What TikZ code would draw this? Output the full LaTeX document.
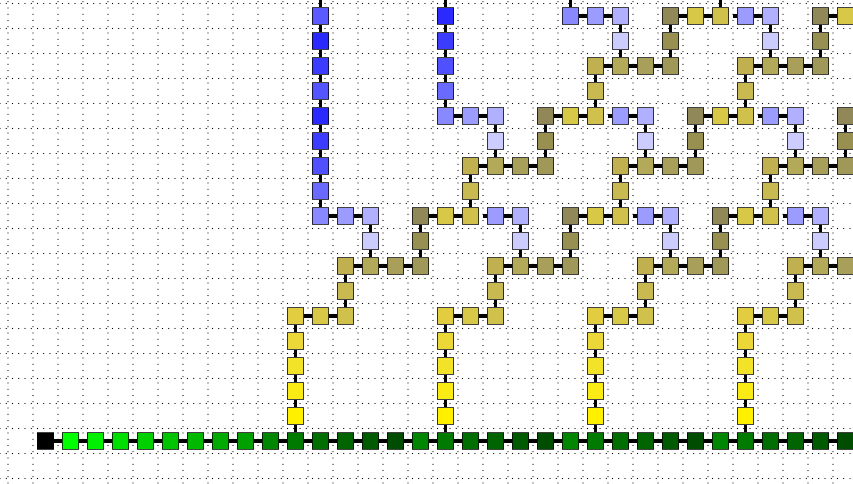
\documentclass[tikz,border=0pt]{standalone}

\definecolor{yl1}{HTML}{FFF000}
\definecolor{yl2}{HTML}{FAEB14}
\definecolor{yl3}{HTML}{F2E228}
\definecolor{yl4}{HTML}{EBD838}
\definecolor{ylc}{HTML}{E2CD40}
\definecolor{yla}{HTML}{D8C848}
\definecolor{ylb}{HTML}{D0C04C}
\definecolor{ol1}{HTML}{C8BA50}
\definecolor{ol2}{HTML}{C0B050}
\definecolor{ol3}{HTML}{B2AA58}
\definecolor{ol4}{HTML}{A8A05A}
\definecolor{ol5}{HTML}{A09858}
\definecolor{ol6}{HTML}{989050}
\definecolor{ol7}{HTML}{908858}
\definecolor{bl1}{HTML}{CCCCFF}
\definecolor{bl2}{HTML}{B0B0FF}
\definecolor{bl3}{HTML}{9C9CFF}
\definecolor{bl4}{HTML}{8888FF}
\definecolor{bl5}{HTML}{6A6AFF}
\definecolor{bl6}{HTML}{5050FF}
\definecolor{bl7}{HTML}{3C3CFF}
\definecolor{bl8}{HTML}{2A2AFF}
\definecolor{bl9}{HTML}{5555FF}
\definecolor{bl10}{HTML}{5A5AFF}

\begin{document}
\begin{tikzpicture}[x=0.5cm, y=0.5cm,
    cell/.style={draw=black, draw opacity=0.75, line width=0.6pt, minimum size=0.33cm, inner sep=0pt},
    link/.style={line width=2pt},
    gridline/.style={black, line width=0.7pt, line cap=round, dash pattern=on 0pt off 3.557pt}]
    \useasboundingbox (-0.82,-1.68) rectangle (33.3,17.64);
    \clip (-0.82,-1.68) rectangle (33.3,17.64);

    % Dotted grid
    \foreach \x in {0,...,33} \draw[gridline] (\x-0.5,-1.68) -- (\x-0.5,17.64);
    \foreach \y in {-1,...,18} \draw[gridline] (-0.82,\y-0.5) -- (33.3,\y-0.5);

    % Trunk
    \foreach \i/\g in {1/0, 2/255, 3/240, 4/224, 5/208, 6/196, 7/184, 8/170, 9/160,
        10/134, 11/122, 12/110, 13/100, 14/90, 15/76,
        16/134, 17/122, 18/110, 19/100, 20/90, 21/76,
        22/134, 23/122, 24/110, 25/100, 26/90, 27/76,
        28/134, 29/122, 30/110, 31/100, 32/90, 33/76}
        \node[cell, fill={rgb,255:red,0;green,\g;blue,0}] (n\i-0) at (\i,0) {};
    \foreach \i in {1,...,32} {
        \pgfmathtruncatemacro{\j}{\i+1}
        \draw[link] (n\i-0) -- (n\j-0);
    }

    % Branches (same shape every 6 cells)
    \foreach \b in {11,17,23,29} {
        \foreach \di/\r/\c in {0/1/yl1, 0/2/yl2, 0/3/yl3, 0/4/yl4, 0/5/ylc, 1/5/yla, 2/5/ylb,
            2/6/ol1, 2/7/ol2, 3/7/ol3, 4/7/ol4, 5/7/ol5, 3/8/bl1, 3/9/bl2, 2/9/bl3,
            5/8/ol6, 5/9/ol7, 6/9/yla, 7/9/ylb, 7/10/ol1, 7/11/ol2, 8/11/ol3, 9/11/ol4, 10/11/ol5,
            8/12/bl1, 8/13/bl2, 7/13/bl3, 10/12/ol6, 10/13/ol7, 11/13/yla, 12/13/ylb,
            12/14/ol1, 12/15/ol2, 13/15/ol3, 14/15/ol4, 15/15/ol5, 13/16/bl1, 13/17/bl2, 12/17/bl3,
            15/16/ol6, 15/17/ol7, 16/17/yla, 17/17/ylb} {
            \pgfmathtruncatemacro{\i}{\b+\di}
            \ifnum\i<34 \node[cell, fill=\c] (n\i-\r) at (\i,\r) {}; \fi
        }
        \foreach \da/\ra/\db/\rb in {0/0/0/1, 0/1/0/2, 0/2/0/3, 0/3/0/4, 0/4/0/5,
            0/5/1/5, 1/5/2/5, 2/5/2/6, 2/6/2/7,
            2/7/3/7, 3/7/4/7, 4/7/5/7, 3/7/3/8, 3/8/3/9, 3/9/2/9,
            5/7/5/8, 5/8/5/9, 5/9/6/9, 6/9/7/9, 7/9/7/10, 7/10/7/11,
            7/11/8/11, 8/11/9/11, 9/11/10/11, 8/11/8/12, 8/12/8/13, 8/13/7/13,
            10/11/10/12, 10/12/10/13, 10/13/11/13, 11/13/12/13, 12/13/12/14, 12/14/12/15,
            12/15/13/15, 13/15/14/15, 14/15/15/15, 13/15/13/16, 13/16/13/17, 13/17/12/17,
            15/15/15/16, 15/16/15/17, 15/17/16/17, 16/17/17/17} {
            \pgfmathtruncatemacro{\ia}{\b+\da}
            \pgfmathtruncatemacro{\ib}{\b+\db}
            \ifnum\ia<34 \ifnum\ib<34 \draw[link] (n\ia-\ra) -- (n\ib-\rb); \fi\fi
        }
    }

    % Blue shoots that keep growing
    \foreach \i/\r/\c in {12/9/bl4, 12/10/bl5, 12/11/bl6, 12/12/bl7, 12/13/bl8,
        12/14/bl9, 12/15/bl7, 12/16/bl8, 12/17/bl10,
        17/13/bl4, 17/14/bl5, 17/15/bl6, 17/16/bl7, 17/17/bl8, 22/17/bl4}
        \node[cell, fill=\c] (n\i-\r) at (\i,\r) {};
    \foreach \p/\q in {n13-9/n12-9, n12-9/n12-10, n12-10/n12-11, n12-11/n12-12, n12-12/n12-13,
        n12-13/n12-14, n12-14/n12-15, n12-15/n12-16, n12-16/n12-17,
        n18-13/n17-13, n17-13/n17-14, n17-14/n17-15, n17-15/n17-16, n17-16/n17-17,
        n23-17/n22-17}
        \draw[link] (\p) -- (\q);

    % Loose ends
    \foreach \i in {12,17,22,28} {
        \coordinate (u\i) at (\i,18);
        \draw[link] (n\i-17) -- (u\i);
    }
    \foreach \i/\r in {19/9, 24/13, 29/17, 25/9, 30/13, 31/9} {
        \coordinate (s\i-\r) at (\i-0.5,\r);
        \draw[link] (n\i-\r) -- (s\i-\r);
    }
\end{tikzpicture}
\end{document}
